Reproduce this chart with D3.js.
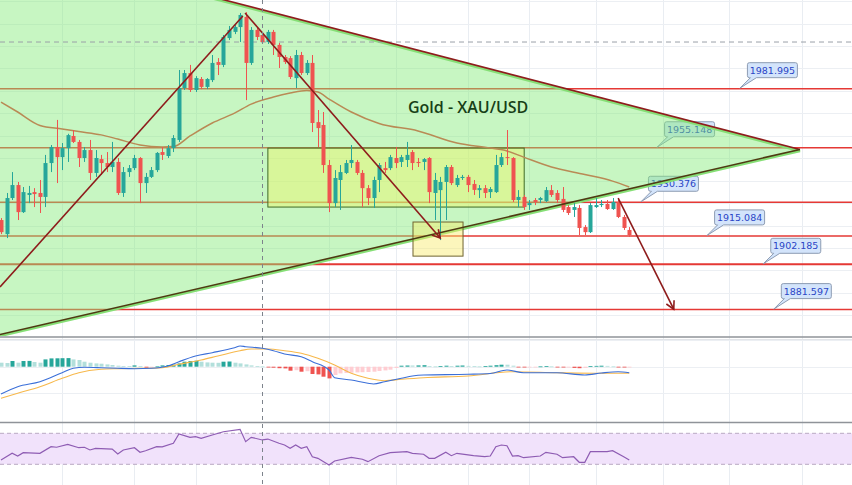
<!DOCTYPE html>
<html><head><meta charset="utf-8">
<script src="https://cdn.jsdelivr.net/npm/d3@7"></script>
<style>html,body{margin:0;padding:0;background:#fff;overflow:hidden}svg{display:block}</style>
</head><body>
<svg id="c" width="852" height="485"></svg>
<script>
// ---------------- DATA ----------------
const candleOpen = [1922.3,1915.9,1932.3,1938.2,1925.9,1933.7,1935.0,1934.6,1932.8,1948.2,
1955.5,1950.9,1955.0,1960.5,1957.8,1950.5,1954.1,1943.7,1950.0,1948.2,
1946.4,1948.7,1934.6,1944.1,1945.9,1950.5,1939.1,1941.9,1945.0,1953.2,
1951.4,1955.0,1958.7,1982.3,1989.1,1981.4,1986.4,1982.8,1985.9,1994.1,
1992.8,2005.0,2007.8,2010.0,2014.6,1993.7,2008.7,2006.4,2003.2,2007.8,
2001.9,1996.4,1995.9,1986.8,1997.3,1989.1,1993.7,1966.8,1965.5,1947.3,
1930.0,1940.5,1943.7,1948.2,1948.7,1943.7,1936.8,1932.3,1940.5,1945.9,
1945.9,1950.5,1948.7,1949.6,1953.2,1948.7,1948.7,1950.5,1934.6,1935.9,
1939.6,1946.4,1938.2,1941.4,1941.9,1938.7,1935.9,1936.8,1935.0,1935.0,
1947.3,1950.9,1950.5,1931.4,1932.8,1929.1,1931.4,1931.4,1930.9,1935.9,
1934.6,1931.9,1928.2,1926.9,1927.8,1919.1,1916.8,1928.2,1929.1,1929.6,
1927.3,1930.5,1923.7,1917.8];
const candleHigh = [1923.2,1934.6,1944.1,1939.6,1937.3,1937.8,1936.8,1940.5,1951.9,1956.4,
1967.8,1957.3,1961.5,1963.2,1958.7,1955.5,1958.7,1954.1,1951.9,1953.2,
1957.8,1950.5,1946.4,1947.3,1951.9,1950.9,1943.7,1946.4,1953.2,1955.5,
1956.4,1960.9,1990.5,1990.5,1992.8,1987.7,1987.3,1986.8,1997.3,1995.9,
2006.4,2010.5,2011.4,2016.4,2016.8,2010.0,2010.0,2007.8,2008.7,2008.7,
2002.8,1997.3,1996.8,1999.6,1998.7,1995.0,1997.3,1972.3,1971.4,1949.6,
1945.0,1947.3,1949.6,1956.4,1949.6,1945.0,1938.2,1942.0,1948.2,1948.7,
1951.9,1955.5,1951.9,1957.8,1954.1,1950.5,1950.5,1950.9,1943.7,1941.9,
1947.3,1947.3,1942.8,1942.8,1942.8,1940.5,1938.2,1938.2,1937.3,1951.9,
1952.8,1963.2,1950.9,1935.9,1933.7,1931.4,1932.3,1932.8,1937.3,1938.2,
1935.9,1937.3,1929.1,1930.0,1929.1,1920.0,1930.0,1932.3,1931.4,1931.4,
1932.3,1932.3,1924.6,1919.1];
const candleLow = [1915.9,1914.1,1931.4,1922.3,1925.5,1930.0,1928.2,1925.5,1928.2,1944.1,
1939.1,1945.0,1948.7,1957.3,1946.4,1948.7,1940.5,1941.9,1942.8,1944.1,
1944.1,1933.7,1932.8,1941.9,1945.0,1930.0,1934.6,1941.4,1944.1,1949.6,
1950.5,1953.2,1957.8,1981.4,1980.5,1980.5,1981.8,1981.8,1985.0,1988.2,
1991.8,2004.1,2006.8,2003.2,1976.8,1992.8,2004.1,2002.3,2002.3,1997.3,
1991.4,1993.2,1986.4,1982.3,1988.2,1988.2,1962.3,1955.5,1943.7,1925.9,
1928.2,1926.9,1943.2,1946.0,1942.8,1928.2,1929.1,1927.8,1935.0,1943.7,
1945.0,1945.9,1946.4,1946.4,1945.0,1946.4,1945.0,1930.0,1922.3,1913.2,
1922.3,1938.2,1937.3,1940.5,1935.0,1933.7,1932.3,1932.3,1932.3,1934.6,
1946.4,1947.3,1930.5,1928.2,1926.9,1926.9,1929.1,1930.0,1930.5,1932.8,
1930.0,1925.9,1924.6,1923.7,1915.5,1915.5,1916.4,1927.8,1928.2,1926.9,
1926.9,1923.2,1917.8,1914.6];
const candleClose = [1916.8,1932.3,1938.2,1925.9,1935.0,1934.6,1934.1,1932.8,1948.2,1955.5,
1950.9,1955.0,1960.9,1957.8,1950.5,1954.1,1943.7,1950.5,1948.2,1946.4,
1948.7,1934.6,1944.1,1945.9,1950.5,1939.1,1941.9,1945.0,1952.8,1951.9,
1955.0,1959.6,1982.3,1989.1,1981.4,1986.8,1982.8,1986.4,1993.7,1992.8,
2005.5,2008.7,2010.0,2015.5,1993.7,2008.7,2005.5,2003.2,2007.8,2001.9,
1996.4,1994.1,1987.3,1997.3,1989.1,1993.7,1966.4,1964.1,1947.3,1930.0,
1941.4,1944.1,1948.2,1949.6,1943.7,1936.8,1932.3,1940.5,1947.3,1945.0,
1950.9,1948.2,1950.9,1951.9,1948.2,1948.2,1950.0,1935.0,1940.5,1939.6,
1946.4,1939.1,1941.4,1941.9,1938.2,1936.0,1936.8,1934.6,1936.4,1947.3,
1950.9,1950.5,1931.4,1932.8,1928.2,1930.0,1930.5,1932.3,1935.9,1933.7,
1931.4,1926.9,1925.5,1928.2,1918.7,1916.8,1929.1,1929.1,1929.6,1927.3,
1930.5,1923.7,1918.7,1915.5];

// moving average: [candle index, price]
const maPoints = [[0,1975.9],[3,1971.4],[7,1965.3],[11,1963.7],[14,1962.5],[18,1961.0],[21,1959.1],
[25,1956.4],[29,1955.5],[31,1955.7],[34,1960.5],[38,1966.4],[42,1970.9],[45,1975.0],[49,1978.2],
[52,1980.0],[55,1981.2],[57,1980.5],[59,1977.3],[63,1971.4],[68,1966.2],[75,1962.8],[82,1957.3],
[88,1955.0],[91,1953.7],[94,1950.9],[99,1946.4],[105,1943.0],[110,1940.0],[113,1937.3]];

// horizontal levels
const levelPrices = [1981.995, 1955.148, 1930.376, 1915.084, 1902.185, 1881.597];
const levelLabels = ["1981.995", "1955.148", "1930.376", "1915.084", "1902.185", "1881.597"];
const levelLabelIdx = [132.9, 118.0, 115.1, 127.0, 137.1, 139.0];

// drawings in [index, price]
const triangle = [[-0.18, 2048.1], [143.7, 1953.7], [-0.18, 1869.6]];
const trendUpper = [[-0.18, 2048.8], [143.7, 1954.4]];
const trendLower = [[-0.18, 1870.3], [143.7, 1954.4]];
const arrowLines = [
  {pts: [[-0.18, 1891.85], [43.5, 2015.0]], head: false},
  {pts: [[43.9, 2016.4], [79.0, 1914.1]], head: true},
  {pts: [[111.0, 1932.3], [121.0, 1881.8]], head: true}
];
const rangeBox = {i0: 48.0, i1: 94.1, p0: 1955.0, p1: 1928.2};
const targetBox = {i0: 74.1, i1: 83.1, p0: 1921.4, p1: 1905.9};
const titleText = "Gold - XAU/USD";
const titlePos = [73.2, 1970.9];

const gridIdx = [11, 24, 35, 59, 71, 84, 95, 107, 119, 131, 144];
const gridPrices = [2021.8, 2011.6, 2001.4, 1991.2, 1981.0, 1970.8, 1960.6, 1950.4, 1940.2, 1930.0, 1919.8, 1909.6, 1899.4, 1889.2, 1879.0];
const crossIdx = 46.95, crossPrice = 2003.2;

// MACD
const macdHist = [2.0,1.85,2.85,2.0,2.85,2.9,2.35,2.0,3.65,4.15,
4.2,4.25,4.3,3.65,3.35,2.5,2.0,1.65,1.5,1.15,
0.85,0.5,0.35,0.25,0.65,0.35,-0.5,-0.25,0.15,0.65,
0.85,1.0,1.65,2.5,2.85,3.0,2.5,2.15,2.0,1.95,
2.5,2.6,2.0,1.65,1.15,0.65,0.35,0.15,-0.35,-0.5,
-0.75,-0.85,-2.0,-1.75,-2.5,-2.25,-3.65,-3.85,-5.0,-5.85,
-4.15,-3.35,-3.15,-3.0,-2.85,-2.75,-2.65,-2.5,-2.15,-1.85,
-1.5,-0.65,0.5,0.6,0.6,0.65,0.75,0.25,0.15,0.25,
0.5,0.35,0.5,0.6,0.4,0.25,0.15,0.25,0.5,0.75,
1.0,1.0,0.5,-0.25,-0.35,-0.3,-0.15,0.15,0.25,0.15,
-0.25,-0.4,-0.35,-0.6,-0.75,-0.6,0.25,0.4,0.5,0.4,
0.15,-0.25,-0.4,-0.3];
const macdLine = [[0,-13.65],[3,-10.0],[7,-7.5],[11,-3.0],[13,-0.8],[15,-0.3],[18,-0.5],[21,-0.8],[24,-1.0],
[27,-0.8],[30,0.35],[32,2.5],[35,5.35],[38,7.0],[42,9.5],[43,10.35],[44,10.0],[47,9.2],[49,8.0],[51,6.35],
[54,5.0],[56,2.5],[59,-1.65],[60,-5.5],[63,-6.65],[66,-8.3],[67,-8.65],[69,-7.5],[72,-5.8],[74,-4.65],
[76,-4.15],[84,-3.8],[88,-3.4],[91,-1.65],[94,-3.0],[100,-3.0],[105,-4.15],[108,-3.15],[111,-2.5],[113,-3.0]];
const signalLine = [[0,-15.8],[3,-13.3],[7,-10.0],[11,-5.8],[14,-3.0],[18,-1.3],[21,-1.0],[25,-0.8],[29,-0.5],
[32,1.2],[36,3.35],[39,5.35],[43,8.0],[45,8.85],[48,8.85],[51,8.0],[54,6.7],[57,4.2],[60,0.85],[63,-3.3],
[66,-5.8],[69,-7.0],[72,-6.3],[76,-5.5],[84,-4.65],[92,-2.5],[100,-3.0],[108,-3.3],[113,-3.3]];
const macdGrid = [13.3, 0, -13.3];

// RSI
const rsiPoints = [[0,35.5],[2,44.2],[3,40.7],[4,45],[7,44.2],[9,52.7],[10,52],[12,55.8],[14,51.4],[15,52],
[16,48.5],[17,50.6],[20,49.7],[21,43.3],[22,48.5],[24,51.4],[25,45.5],[26,47.5],[28,52.7],[29,52.4],
[31,57.1],[32,69.1],[34,64.8],[35,65.6],[36,63.5],[38,67.8],[40,72],[43,75.1],[44,59.2],[45,64.8],
[47,61.4],[48,62.6],[50,57.1],[51,54.9],[52,50.6],[53,54.9],[54,50.6],[55,52.7],[56,39.8],[57,37.7],
[59,29.1],[60,34.3],[63,39.0],[65,36.5],[66,33.4],[68,41.1],[70,45],[73,46.3],[74,44.2],[76,43],
[77,37.7],[78,37.7],[80,45.5],[81,41.1],[82,44.2],[85,41.1],[87,39.8],[88,40.7],[89,52.7],[90,54.9],
[91,54],[92,40.7],[93,41.1],[94,38.5],[97,40.7],[98,45.5],[100,43],[101,38.5],[103,39.8],[104,32.6],
[105,32.6],[106,46.3],[109,46.3],[110,47.5],[112,39.8],[113,35.5]];
const rsiBand = [70, 30];

// ---------------- DRAW ----------------
const W = 852, H = 485;
const svg = d3.select("#c");
const x = d3.scaleLinear().domain([-0.18, 153.06]).range([0, W]);
const y = d3.scaleLinear().domain([1869.6, 2022.3]).range([336, 0]);
const yM = d3.scaleLinear().domain([-27.15, 14.35]).range([421, 338]);
const yR = d3.scaleLinear().domain([30, 70]).range([464.3, 433.3]);

const defs = svg.append("defs");
defs.append("clipPath").attr("id","cm").append("rect").attr("x",0).attr("y",0).attr("width",W).attr("height",336);
defs.append("clipPath").attr("id","cd").append("rect").attr("x",0).attr("y",339).attr("width",W).attr("height",82);
defs.append("clipPath").attr("id","cr").append("rect").attr("x",0).attr("y",424).attr("width",W).attr("height",61);

svg.append("rect").attr("width",W).attr("height",H).attr("fill","#fff");

// vertical grid (all panes)
svg.append("g").selectAll("line").data(gridIdx).join("line")
  .attr("x1", d=>Math.round(x(d))+0.5).attr("x2", d=>Math.round(x(d))+0.5)
  .attr("y1",0).attr("y2",H).attr("stroke","#e9edf2").attr("stroke-width",1);

const main = svg.append("g").attr("clip-path","url(#cm)");
main.append("g").selectAll("line").data(gridPrices).join("line")
  .attr("x1",0).attr("x2",W).attr("y1",d=>Math.round(y(d))+0.5).attr("y2",d=>Math.round(y(d))+0.5)
  .attr("stroke","#eceff3").attr("stroke-width",1);

// horizontal levels
main.append("g").selectAll("line").data(levelPrices).join("line")
  .attr("x1",0).attr("x2",W).attr("y1",d=>y(d)).attr("y2",d=>y(d))
  .attr("stroke","#e53935").attr("stroke-width",(d,i)=> i===4 ? 2 : 1.5);

// labels (callouts)
const lab = main.append("g");
levelPrices.forEach((p,i)=>{
  const ax = x(levelLabelIdx[i]), ay = y(p);
  const L = ax + 7.5, B = ay - 11, R = L + 50, T = B - 15, r = 2;
  const d = `M${L+r},${T} H${R-r} Q${R},${T} ${R},${T+r} V${B-r} Q${R},${B} ${R-r},${B} H${L+9} L${ax},${ay-0.5} L${L+3},${B} H${L+r} Q${L},${B} ${L},${B-r} V${T+r} Q${L},${T} ${L+r},${T} Z`;
  lab.append("path").attr("d",d).attr("fill","#d3e4fb").attr("stroke","#8d9cb3").attr("stroke-width",1);
  lab.append("text").attr("x",L+25).attr("y",B-4).attr("text-anchor","middle")
    .attr("font-family","DejaVu Sans, Verdana, sans-serif").attr("font-size",9.5)
    .attr("fill","#2a45c6").text(levelLabels[i]);
});

// triangle fill (no stroke), then border on the two slanted edges
const pt = d => [x(d[0]), y(d[1])];
main.append("path").attr("d", "M" + triangle.map(pt).join("L") + "Z")
  .attr("fill","#82eb78").attr("fill-opacity",0.45).attr("stroke","none");
main.append("path").attr("d", "M" + triangle.map(pt).join("L"))
  .attr("fill","none").attr("stroke","#86df76").attr("stroke-width",2.5).attr("stroke-linejoin","miter");

// crosshair horizontal
main.append("line").attr("x1",0).attr("x2",W).attr("y1",y(crossPrice)).attr("y2",y(crossPrice))
  .attr("stroke","#9aa0a8").attr("stroke-width",1).attr("stroke-dasharray","5,4");

// boxes
main.append("rect").attr("x",x(rangeBox.i0)).attr("y",y(rangeBox.p0))
  .attr("width",x(rangeBox.i1)-x(rangeBox.i0)).attr("height",y(rangeBox.p1)-y(rangeBox.p0))
  .attr("fill","#eef76a").attr("fill-opacity",0.45).attr("stroke","#3f6a25").attr("stroke-width",1);
main.append("rect").attr("x",x(targetBox.i0)).attr("y",y(targetBox.p0))
  .attr("width",x(targetBox.i1)-x(targetBox.i0)).attr("height",y(targetBox.p1)-y(targetBox.p0))
  .attr("fill","#f8ea6a").attr("fill-opacity",0.45).attr("stroke","#6f6330").attr("stroke-width",1);

// MA
main.append("path").datum(maPoints)
  .attr("d", d3.line().x(d=>x(d[0])).y(d=>y(d[1])).curve(d3.curveMonotoneX))
  .attr("fill","none").attr("stroke","#b98a55").attr("stroke-width",1.5);

// candles
const idx = d3.range(candleOpen.length);
const up = "#26a69a", dn = "#ef5350";
const cg = main.append("g");
cg.selectAll("line").data(idx).join("line")
  .attr("x1",i=>Math.round(x(i))+0.5).attr("x2",i=>Math.round(x(i))+0.5)
  .attr("y1",i=>y(candleHigh[i])).attr("y2",i=>y(candleLow[i]))
  .attr("stroke",i=>candleClose[i]>=candleOpen[i]?up:dn).attr("stroke-width",1);
cg.selectAll("rect").data(idx).join("rect")
  .attr("x",i=>Math.round(x(i))-1.5).attr("width",4)
  .attr("y",i=>y(Math.max(candleOpen[i],candleClose[i])))
  .attr("height",i=>Math.max(1, Math.abs(y(candleOpen[i])-y(candleClose[i]))))
  .attr("fill",i=>candleClose[i]>=candleOpen[i]?up:dn);

// trend lines
const ln = d3.line().x(d=>x(d[0])).y(d=>y(d[1]));
main.append("path").attr("d", ln(trendUpper)).attr("stroke","#8e1c1c").attr("stroke-width",1.6).attr("fill","none");
main.append("path").attr("d", ln(trendLower)).attr("stroke","#4e3a12").attr("stroke-width",1.6).attr("fill","none");

arrowLines.forEach(a=>{
  main.append("path").attr("d", ln(a.pts)).attr("stroke","#8e1c1c").attr("stroke-width",1.6).attr("fill","none");
  if (a.head) {
    const [x1,y1] = pt(a.pts[0]), [x2,y2] = pt(a.pts[1]);
    const ang = Math.atan2(y2-y1, x2-x1), len = 9, sp = 0.5;
    const w1 = [x2 - len*Math.cos(ang-sp), y2 - len*Math.sin(ang-sp)];
    const w2 = [x2 - len*Math.cos(ang+sp), y2 - len*Math.sin(ang+sp)];
    main.append("path").attr("d", `M${w1}L${x2},${y2}L${w2}`).attr("stroke","#8e1c1c")
      .attr("stroke-width",1.6).attr("fill","none");
  }
});

// title
main.append("text").attr("x",x(titlePos[0])).attr("y",y(titlePos[1]))
  .attr("font-family","'Open Sans', sans-serif").attr("font-weight",600).attr("font-size",16)
  .attr("fill","#173f17").text(titleText);

// ---- MACD pane ----
const md = svg.append("g").attr("clip-path","url(#cd)");
md.append("g").selectAll("line").data(macdGrid).join("line")
  .attr("x1",0).attr("x2",W).attr("y1",d=>Math.round(yM(d))+0.5).attr("y2",d=>Math.round(yM(d))+0.5)
  .attr("stroke","#eceff3");
const histColor = i => {
  const v = macdHist[i], pv = i>0 ? macdHist[i-1] : v;
  if (v >= 0) return v > pv ? "#26a69a" : "#b2dfdb";
  return v < pv ? "#ef5350" : "#ffcdd2";
};
md.append("g").selectAll("rect").data(idx).join("rect")
  .attr("x",i=>Math.round(x(i))-1.5).attr("width",4)
  .attr("y",i=>Math.min(yM(0), yM(macdHist[i])))
  .attr("height",i=>Math.max(0.8, Math.abs(yM(macdHist[i])-yM(0))))
  .attr("fill",histColor);
md.append("path").datum(signalLine).attr("d", d3.line().x(d=>x(d[0])).y(d=>yM(d[1])).curve(d3.curveMonotoneX))
  .attr("fill","none").attr("stroke","#f7b84b").attr("stroke-width",1.1);
md.append("path").datum(macdLine).attr("d", d3.line().x(d=>x(d[0])).y(d=>yM(d[1])).curve(d3.curveMonotoneX))
  .attr("fill","none").attr("stroke","#3b6fd8").attr("stroke-width",1.1);

// ---- RSI pane ----
const rs = svg.append("g").attr("clip-path","url(#cr)");
rs.append("rect").attr("x",0).attr("width",W).attr("y",yR(rsiBand[0])).attr("height",yR(rsiBand[1])-yR(rsiBand[0]))
  .attr("fill","#f1e2fb");
rs.append("g").selectAll("line").data(rsiBand).join("line")
  .attr("x1",0).attr("x2",W).attr("y1",d=>yR(d)).attr("y2",d=>yR(d))
  .attr("stroke","#b9a9c2").attr("stroke-dasharray","4,3").attr("stroke-width",1);
rs.append("path").datum(rsiPoints).attr("d", d3.line().x(d=>x(d[0])).y(d=>yR(d[1])))
  .attr("fill","none").attr("stroke","#8e5cb3").attr("stroke-width",1.2);

// separators
svg.append("line").attr("x1",0).attr("x2",W).attr("y1",337).attr("y2",337).attr("stroke","#8f9399").attr("stroke-width",1.6);
svg.append("line").attr("x1",0).attr("x2",W).attr("y1",339.5).attr("y2",339.5).attr("stroke","#e2e4e8").attr("stroke-width",1);
svg.append("line").attr("x1",0).attr("x2",W).attr("y1",422.5).attr("y2",422.5).attr("stroke","#8f9399").attr("stroke-width",1.6);

// vertical crosshair
svg.append("line").attr("x1",Math.round(x(crossIdx))+0.5).attr("x2",Math.round(x(crossIdx))+0.5)
  .attr("y1",0).attr("y2",H).attr("stroke","#7d838c").attr("stroke-width",1).attr("stroke-dasharray","4,4");
</script>
</body></html>
